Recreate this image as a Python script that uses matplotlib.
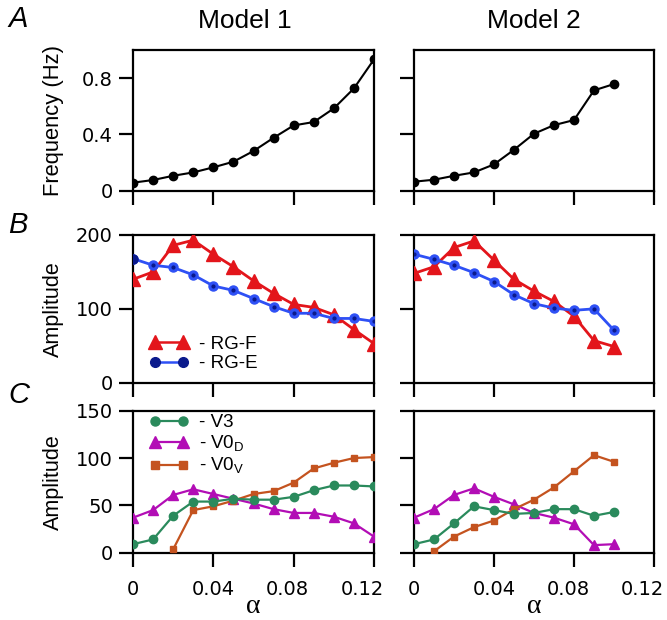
import matplotlib
matplotlib.use("Agg")
import matplotlib.pyplot as plt
from matplotlib.lines import Line2D
from matplotlib.transforms import ScaledTranslation

plt.rcParams['font.family'] = ['Liberation Sans', 'DejaVu Sans']
plt.rcParams['mathtext.fontset'] = 'custom'
plt.rcParams['mathtext.rm'] = 'Liberation Sans'

# ---------------- data ----------------
alpha1 = [0, 0.01, 0.02, 0.03, 0.04, 0.05, 0.06, 0.07, 0.08, 0.09, 0.10, 0.11, 0.12]
alpha2 = [0, 0.01, 0.02, 0.03, 0.04, 0.05, 0.06, 0.07, 0.08, 0.09, 0.10]

freq_m1 = [0.057, 0.076, 0.106, 0.13, 0.166, 0.206, 0.282, 0.376, 0.464, 0.488, 0.585, 0.727, 0.933]
freq_m2 = [0.064, 0.078, 0.106, 0.13, 0.187, 0.291, 0.405, 0.466, 0.502, 0.713, 0.758]

rgf_m1 = [140, 150, 186, 193, 174, 157, 138, 121, 106, 102, 92, 72, 53]
rge_m1 = [168, 159, 156, 146, 131, 125, 114, 103, 94, 94, 87, 87, 83]
rgf_m2 = [148, 157, 183, 192, 166, 140, 124, 110, 90, 57, 49]
rge_m2 = [174, 167, 159, 149, 137, 119, 107, 101, 98, 100, 71]

v3_m1 = [9, 14, 39, 54, 54, 57, 56, 56, 59, 66, 71, 71, 70]
v0d_m1 = [37, 45, 61, 67, 62, 57, 52, 46, 42, 42, 38, 31, 17]
v0v_alpha1 = [0.02, 0.03, 0.04, 0.05, 0.06, 0.07, 0.08, 0.09, 0.10, 0.11, 0.12]
v0v_m1 = [3.6, 45, 49, 55, 62, 65, 74, 89, 95, 100, 101]

v3_m2 = [9, 14, 31, 49, 45, 41, 42, 46, 46, 39, 43]
v0d_m2 = [37, 46, 61, 68, 59, 51, 42, 37, 30, 8, 9]
v0v_alpha2 = [0.01, 0.02, 0.03, 0.04, 0.05, 0.06, 0.07, 0.08, 0.09, 0.10]
v0v_m2 = [1.5, 17, 27, 34, 46, 56, 69, 86, 103, 96]

xticks = [0, 0.04, 0.08, 0.12]
xticklabels = ['0', '0.04', '0.08', '0.12']
titles = ['Model 1', 'Model 2']
panel_letters = ['A', 'B', 'C']

# ---------------- style ----------------
C_RED = '#e3151b'
C_BLUE = '#2e50f5'
C_NAVY = '#0a1a8c'
C_GREEN = '#2a8a5c'
C_MAG = '#b20db5'
C_ORANGE = '#c4531f'

W, H = 667, 620
fig = plt.figure(figsize=(W / 100, H / 100), dpi=100)

def fr(x0, y0, x1, y1):
    return [x0 / W, 1 - y1 / H, (x1 - x0) / W, (y1 - y0) / H]

cols = [(133, 374), (414, 654)]
rows = [(50, 190.7), (235, 382.7), (410.7, 552.7)]

axes = [[fig.add_axes(fr(c[0], r[0], c[1], r[1])) for c in cols] for r in rows]

TS = 14
TFONT = ['DejaVu Sans']
for i, row in enumerate(axes):
    for j, ax in enumerate(row):
        ax.set_xlim(0, 0.12)
        ax.set_xticks(xticks)
        for s in ax.spines.values():
            s.set_linewidth(1.6)
        ax.tick_params(direction='out', length=10, width=1.6, labelsize=TS)
        ax.tick_params(axis='x', pad=10)
        ax.tick_params(axis='y', pad=4.5)
        if i == 2:
            ax.set_xticklabels(xticklabels, family=TFONT)
            labs = ax.get_xticklabels()
            for lab, dx in zip(labs, [0, 0, -6, -11.5]):
                lab.set_transform(lab.get_transform() + ScaledTranslation(dx / 100, 0, fig.dpi_scale_trans))
        else:
            ax.set_xticklabels([])

# Row A
axes[0][0].plot(alpha1, freq_m1, '-o', color='black', lw=1.5, ms=6)
axes[0][1].plot(alpha2, freq_m2, '-o', color='black', lw=1.5, ms=6)
for j, ax in enumerate(axes[0]):
    ax.set_ylim(0, 1.0)
    ax.set_yticks([0, 0.4, 0.8])
    if j == 0:
        ax.set_yticklabels(['0', '0.4', '0.8'], family=TFONT)
    else:
        ax.set_yticklabels([])
    ax.yaxis.get_major_ticks()[0].tick1line.set_color('#33cc33')
axes[0][0].set_ylabel('Frequency (Hz)', fontsize=15.8)

# Row B
for ax, a, f, e in [(axes[1][0], alpha1, rgf_m1, rge_m1), (axes[1][1], alpha2, rgf_m2, rge_m2)]:
    ax.plot(a, f, '-^', color=C_RED, lw=2, ms=10, zorder=3)
    ax.plot(a, e, '-o', color=C_BLUE, lw=2, ms=6.5, zorder=3)
    ax.plot(a, e, 'o', color=C_NAVY, ms=2.0, lw=0, zorder=4)
    ax.set_ylim(0, 200)
    ax.set_yticks([0, 100, 200])
    ax.yaxis.get_major_ticks()[0].tick1line.set_color(C_NAVY)
axes[1][0].plot([alpha1[0]], [rge_m1[0]], 'o', color=C_NAVY, ms=6.5, zorder=5)
axes[1][0].set_yticklabels(['0', '100', '200'], family=TFONT)
axes[1][1].set_yticklabels([])
axes[1][0].set_ylabel('Amplitude', fontsize=15.5)
hF = Line2D([], [], color=C_RED, marker='^', ms=10, lw=1.8)
hE = Line2D([], [], color=C_BLUE, marker='o', ms=7, lw=1.8,
            markerfacecolor=C_NAVY, markeredgecolor=C_NAVY)
axes[1][0].legend([hF, hE], ['- RG-F', '- RG-E'], loc='lower left', frameon=False,
                  fontsize=13.5, numpoints=2, handlelength=2.1, handletextpad=0.55,
                  borderaxespad=0, borderpad=0, labelspacing=0.12,
                  bbox_to_anchor=(0.069, 0.07))

# Row C
for ax, a, v3, v0d, av, v0v in [(axes[2][0], alpha1, v3_m1, v0d_m1, v0v_alpha1, v0v_m1),
                                 (axes[2][1], alpha2, v3_m2, v0d_m2, v0v_alpha2, v0v_m2)]:
    ax.plot(a, v0d, '-^', color=C_MAG, lw=1.6, ms=7.5, zorder=3)
    ax.plot(av, v0v, '-s', color=C_ORANGE, lw=1.6, ms=5, zorder=3)
    ax.plot(a, v3, '-o', color=C_GREEN, lw=1.6, ms=6, zorder=4)
    ax.set_ylim(0, 150)
    ax.set_yticks([0, 50, 100, 150])
    ax.set_xlabel('α', fontsize=20, family=['Liberation Serif'], va='baseline')
    ax.xaxis.set_label_coords(0.5, -0.425)
axes[2][0].set_yticklabels(['0', '50', '100', '150'], family=TFONT)
axes[2][1].set_yticklabels([])
axes[2][0].set_ylabel('Amplitude', fontsize=15.5)
h3 = Line2D([], [], color=C_GREEN, marker='o', ms=6.5, lw=1.6)
hD = Line2D([], [], color=C_MAG, marker='^', ms=8, lw=1.6)
hV = Line2D([], [], color=C_ORANGE, marker='s', ms=5.5, lw=1.6)
axes[2][0].legend([h3, hD, hV], ['- V3', r'- V0$_\mathregular{D}$', r'- V0$_\mathregular{V}$'],
                  loc='upper left', frameon=False, fontsize=13.5, numpoints=2,
                  handlelength=2.1, handletextpad=0.55, borderaxespad=0, borderpad=0,
                  labelspacing=0.12, bbox_to_anchor=(0.069, 0.975))

for r in range(3):
    axes[r][0].yaxis.set_label_coords(-0.285, 0.5)

# titles and panel letters
fig.text(245 / W, 1 - 28 / H, titles[0], fontsize=19, ha='center', va='baseline')
fig.text(534 / W, 1 - 28 / H, titles[1], fontsize=19, ha='center', va='baseline')
for letter, y in zip(panel_letters, [27, 233, 403]):
    fig.text(8 / W, 1 - y / H, letter, fontsize=21, style='italic', ha='left', va='baseline')

fig.savefig('out.png', dpi=100)
